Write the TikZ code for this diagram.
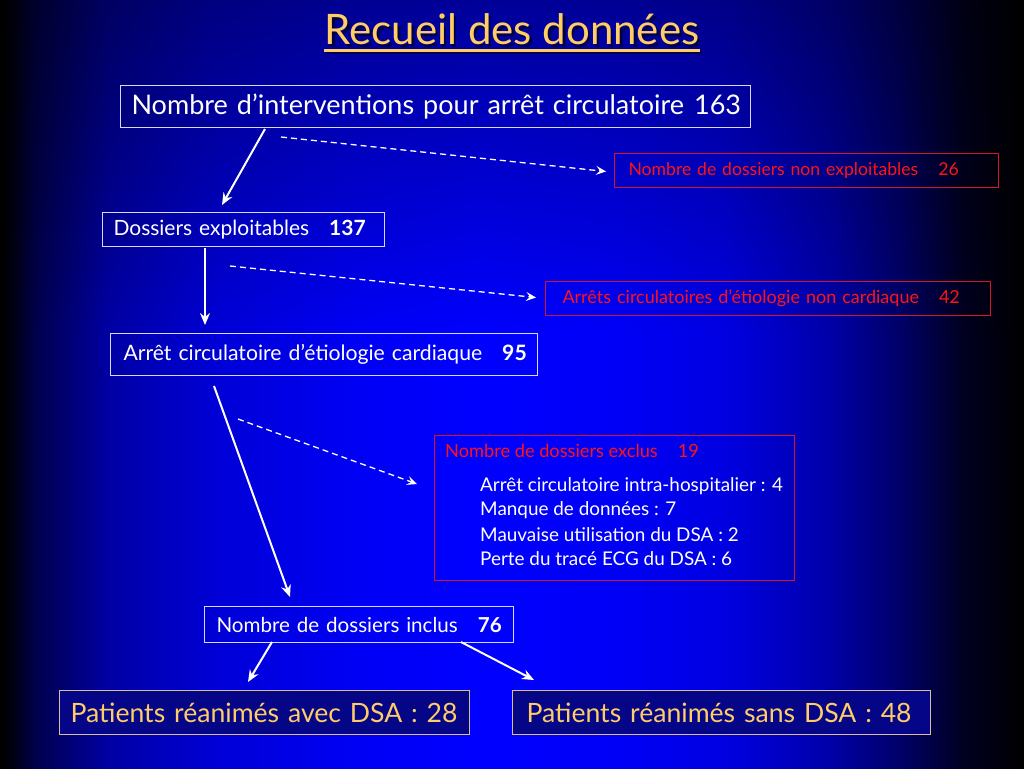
\documentclass[tikz,border=0pt]{standalone}
\usepackage{fontspec}
\setmainfont{Lato}
\usetikzlibrary{arrows.meta,calc,fadings}
\definecolor{orng}{RGB}{255,204,102}
\definecolor{redt}{RGB}{255,20,20}
\definecolor{redb}{RGB}{215,20,45}
\definecolor{bord}{RGB}{215,215,255}
\definecolor{tanb}{RGB}{220,190,150}
\definecolor{boxfill}{RGB}{5,5,135}
\pgfdeclarehorizontalshading{bgshade}{100bp}{rgb(0bp)=(0,0,0); rgb(25bp)=(0,0,0); rgb(25.5bp)=(0,0,0.05); rgb(26.75bp)=(0,0,0.3); rgb(30.25bp)=(0,0,0.64); rgb(35.5bp)=(0,0,0.84); rgb(42.5bp)=(0,0,0.96); rgb(48.5bp)=(0,0,1); rgb(55bp)=(0,0,0.97); rgb(60.5bp)=(0,0,0.88); rgb(65.5bp)=(0,0,0.66); rgb(68.8bp)=(0,0,0.42); rgb(72bp)=(0,0,0.13); rgb(75bp)=(0,0,0); rgb(100bp)=(0,0,0)}
\tikzfading[name=topdark, top color=transparent!60, bottom color=transparent!100]
\tikzset{
  wbox/.style={draw=bord, line width=1pt, text=white, anchor=north west, align=left, inner ysep=0pt},
  rbox/.style={draw=redb, line width=1pt, text=redt, anchor=north west, align=left, inner ysep=0pt},
  obox/.style={draw=tanb, line width=1pt, text=orng, fill=boxfill, anchor=north west, align=left, inner ysep=0pt,
    font=\fontsize{26.6}{30}\selectfont},
  sarrow/.style={draw=white, line width=2pt, -{Stealth[length=12pt,width=10pt,inset=4pt]}},
  darrow/.style={draw=white, line width=1.3pt, dash pattern=on 6pt off 4pt, -{Stealth[length=10pt,width=9pt,inset=4pt]}},
  itemtxt/.style={anchor=west, inner sep=0pt, text=white, font=\fontsize{18.9}{21}\selectfont}
}
\begin{document}
\begin{tikzpicture}[x=1pt,y=-1pt]
\useasboundingbox (0,0) rectangle (1024,768);
\shade[shading=bgshade] (0,0) rectangle (1024,768);
\fill[black, path fading=topdark] (0,0) rectangle (1024,330);

% title
\node[font=\fontsize{42}{50}\selectfont, text=black, opacity=0.55, inner sep=0pt, anchor=base] (titleshadow) at (514.5,47.5) {Recueil des données};
\node[font=\fontsize{42}{50}\selectfont, text=orng, inner sep=0pt, anchor=base] (title) at (512,45) {Recueil des données};
\draw[black, opacity=0.55, line width=3pt] ($(titleshadow.base west)+(0,5.5)$) -- ($(titleshadow.base east)+(0,5.5)$);
\draw[orng, line width=3pt] ($(title.base west)+(0,5.5)$) -- ($(title.base east)+(0,5.5)$);

% boxes
\node[wbox, text width=608pt, inner xsep=11pt, minimum height=42pt, font=\fontsize{27}{30}\selectfont] (b1) at (120,85)
  {\mbox{Nombre d’interventions pour arrêt circulatoire\hspace{10pt}163}};
\node[rbox, text width=356pt, inner xsep=14pt, minimum height=34pt, font=\fontsize{17.6}{20}\selectfont] (b2) at (614,153)
  {\mbox{Nombre de dossiers non exploitables\hspace{20pt}26}};
\node[wbox, text width=260pt, inner xsep=11pt, minimum height=34pt, font=\fontsize{21}{24}\selectfont] (b3) at (102,212)
  {\mbox{Dossiers exploitables\hspace{20pt}\textbf{137}}};
\node[rbox, text width=411pt, inner xsep=17pt, minimum height=34pt, font=\fontsize{18}{21}\selectfont] (b4) at (545,281)
  {\mbox{Arrêts circulatoires d’étiologie non cardiaque\hspace{20pt}42}};
\node[wbox, text width=401pt, inner xsep=13pt, minimum height=42pt, font=\fontsize{21.2}{24}\selectfont] (b5) at (110,333)
  {\mbox{Arrêt circulatoire d’étiologie cardiaque\hspace{20pt}\textbf{95}}};
\node[rbox, minimum width=360pt, minimum height=145pt, inner sep=0pt] (b6) at (434,435) {};
\node[anchor=west, inner sep=0pt, text=redt, font=\fontsize{18.2}{21}\selectfont] (b6t) at ($(b6.north west)+(11,16)$)
  {Nombre de dossiers exclus\hspace{20pt}19};
\node[itemtxt] (i1) at ($(b6.north west)+(46,51)$) {Arrêt circulatoire intra-hospitalier : 4};
\node[itemtxt] (i2) at ($(b6.north west)+(46,75)$) {Manque de données : 7};
\node[itemtxt] (i3) at ($(b6.north west)+(46,100)$) {Mauvaise utilisation du DSA : 2};
\node[itemtxt] (i4) at ($(b6.north west)+(46,124)$) {Perte du tracé ECG du DSA : 6};
\node[wbox, text width=285pt, inner xsep=12pt, minimum height=36pt, font=\fontsize{20.6}{24}\selectfont] (b7) at (204,606)
  {\mbox{Nombre de dossiers inclus\hspace{20pt}\textbf{76}}};
\node[obox, text width=388pt, inner xsep=11pt, minimum height=44pt] (b8) at (59,690)
  {\mbox{Patients réanimés avec DSA : 28}};
\node[obox, text width=390pt, inner xsep=14pt, minimum height=44pt] (b9) at (512,690)
  {\mbox{Patients réanimés sans DSA : 48}};

% connectors
\draw[sarrow] ($(b1.south west)+(145,1)$) -- ($(b3.north west)+(120,-7)$);
\draw[darrow] ($(b1.south west)+(161,9)$) -- ($(b2.west)+(-8,1)$);
\draw[sarrow] ($(b3.south west)+(103,1)$) -- ($(b5.north west)+(95,-8)$);
\draw[darrow] ($(b3.south west)+(128,19)$) -- ($(b4.west)+(-9,-1)$);
\draw[sarrow] ($(b5.south west)+(104,10)$) -- ($(b7.north west)+(86,-9)$);
\draw[darrow] ($(b5.south west)+(128,43)$) -- ($(b6.north west)+(-17,49)$);
\draw[sarrow] ($(b7.south west)+(68,-1)$) -- ($(b8.north west)+(189,-8)$);
\draw[sarrow] ($(b7.south west)+(257,-1)$) -- ($(b9.north west)+(22,-10)$);
\end{tikzpicture}
\end{document}
